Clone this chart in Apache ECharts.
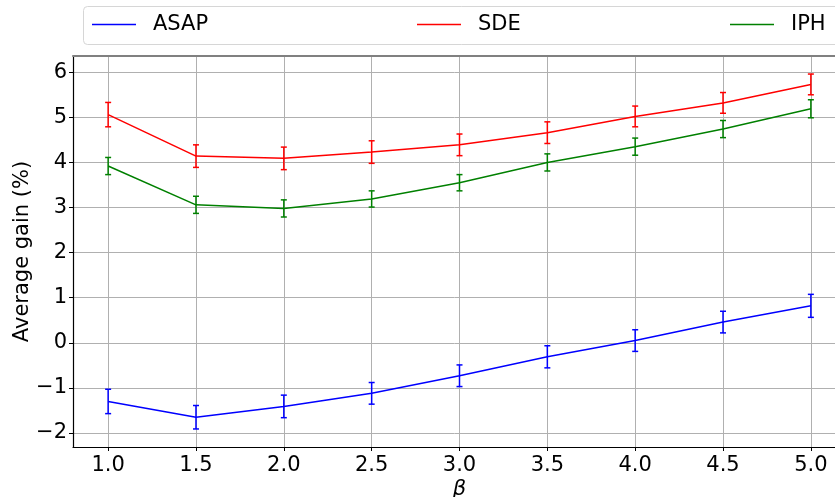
<!DOCTYPE html>
<html>
<head>
<meta charset="utf-8">
<script src="https://cdn.jsdelivr.net/npm/echarts@6/dist/echarts.min.js"></script>
<style>html,body{margin:0;padding:0;background:#fff;}#c{width:835px;height:497px;}</style>
</head>
<body>
<div id="c"></div>
<script>
const betas = [1.0, 1.5, 2.0, 2.5, 3.0, 3.5, 4.0, 4.5, 5.0];
const seriesNames = ['ASAP', 'SDE', 'IPH'];
const asapMean = [-1.30, -1.65, -1.41, -1.12, -0.73, -0.31, 0.05, 0.46, 0.82];
const asapErr  = [0.27, 0.26, 0.25, 0.24, 0.24, 0.245, 0.24, 0.24, 0.255];
const sdeMean  = [5.06, 4.14, 4.09, 4.23, 4.39, 4.66, 5.02, 5.32, 5.73];
const sdeErr   = [0.27, 0.25, 0.25, 0.25, 0.24, 0.24, 0.23, 0.23, 0.23];
const iphMean  = [3.92, 3.06, 2.98, 3.19, 3.55, 4.00, 4.35, 4.74, 5.19];
const iphErr   = [0.19, 0.19, 0.19, 0.18, 0.18, 0.19, 0.19, 0.19, 0.20];
const yTicks = [-2, -1, 0, 1, 2, 3, 4, 5, 6];
const colors = ['#0000ff', '#ff0000', '#008000'];

const means = [asapMean, sdeMean, iphMean];
const errs = [asapErr, sdeErr, iphErr];
const FONT = 'DejaVu Sans';

const chart = echarts.init(document.getElementById('c'), null, {renderer: 'canvas'});

const series = [];
seriesNames.forEach((name, i) => {
  series.push({
    name: name,
    type: 'line',
    xAxisIndex: 0, yAxisIndex: 0,
    symbol: 'none',
    color: colors[i],
    lineStyle: {color: colors[i], width: 1.5},
    itemStyle: {color: colors[i]},
    data: betas.map((b, k) => [b, means[i][k]]),
    z: 3,
    animation: false
  });
  series.push({
    name: name + '_err',
    type: 'custom',
    xAxisIndex: 0, yAxisIndex: 0,
    data: betas.map((b, k) => [b, means[i][k] - errs[i][k], means[i][k] + errs[i][k]]),
    renderItem: function (params, api) {
      const lo = api.coord([api.value(0), api.value(1)]);
      const hi = api.coord([api.value(0), api.value(2)]);
      const hw = 3;
      const st = {stroke: colors[i], lineWidth: 1.5};
      return {type: 'group', children: [
        {type: 'line', shape: {x1: lo[0], y1: lo[1], x2: hi[0], y2: hi[1]}, style: st},
        {type: 'line', shape: {x1: lo[0] - hw, y1: lo[1], x2: lo[0] + hw, y2: lo[1]}, style: st},
        {type: 'line', shape: {x1: hi[0] - hw, y1: hi[1], x2: hi[0] + hw, y2: hi[1]}, style: st}
      ]};
    },
    z: 4,
    animation: false
  });
});

const legendPos = [92, 417, 730];
const legends = seriesNames.map((name, i) => ({
  data: [{name: name, icon: 'rect', itemStyle: {color: colors[i]}}],
  left: legendPos[i],
  top: 14,
  itemWidth: 44,
  itemHeight: 1.3,
  padding: 0,
  selectedMode: false,
  textStyle: {fontFamily: FONT, fontSize: 21, color: '#000', padding: [0, 0, 0, 12]}
}));

chart.setOption({
  animation: false,
  backgroundColor: '#fff',
  graphic: [{
    type: 'rect',
    shape: {x: 83.5, y: 6.5, width: 760, height: 38, r: 4},
    style: {fill: '#fff', stroke: '#d6d6d6', lineWidth: 1},
    z: 0
  }],
  legend: legends,
  grid: {left: 73, top: 56, width: 773, height: 391, containLabel: false, outerBoundsMode: 'none'},
  xAxis: [{
    type: 'value',
    min: 0.8, max: 5.2,
    name: 'β',
    nameLocation: 'middle',
    nameGap: 32,
    nameMoveOverlap: false,
    nameTextStyle: {fontFamily: FONT, fontSize: 21, fontStyle: 'italic', color: '#000'},
    axisLine: {show: true, onZero: false, lineStyle: {color: '#000', width: 1.2}},
    axisTick: {show: true, length: 4, lineStyle: {color: '#000', width: 1}, customValues: betas},
    axisLabel: {customValues: betas, fontFamily: FONT, fontSize: 21, color: '#000', margin: 8,
      formatter: v => Number(v).toFixed(1)},
    splitLine: {show: true, lineStyle: {color: '#b0b0b0', width: 1}}
  }, {
    type: 'value',
    position: 'top',
    min: 0.8, max: 5.2,
    axisLine: {show: true, onZero: false, lineStyle: {color: '#808080', width: 2}},
    axisTick: {show: false}, axisLabel: {show: false}, splitLine: {show: false}
  }],
  yAxis: {
    type: 'value',
    min: -2.31, max: 6.36,
    name: 'Average gain (%)',
    nameLocation: 'middle',
    nameGap: 40,
    nameMoveOverlap: false,
    nameTextStyle: {fontFamily: FONT, fontSize: 21, color: '#000'},
    axisLine: {show: true, onZero: false, lineStyle: {color: '#000', width: 1.2}},
    axisTick: {show: true, length: 4, lineStyle: {color: '#000', width: 1}, customValues: yTicks},
    axisLabel: {customValues: yTicks, fontFamily: FONT, fontSize: 21, color: '#000', margin: 6,
      formatter: v => (v < 0 ? '\u2212' + Math.abs(v) : String(v))},
    splitLine: {show: true, lineStyle: {color: '#b0b0b0', width: 1}}
  },
  series: series
});
</script>
</body>
</html>
